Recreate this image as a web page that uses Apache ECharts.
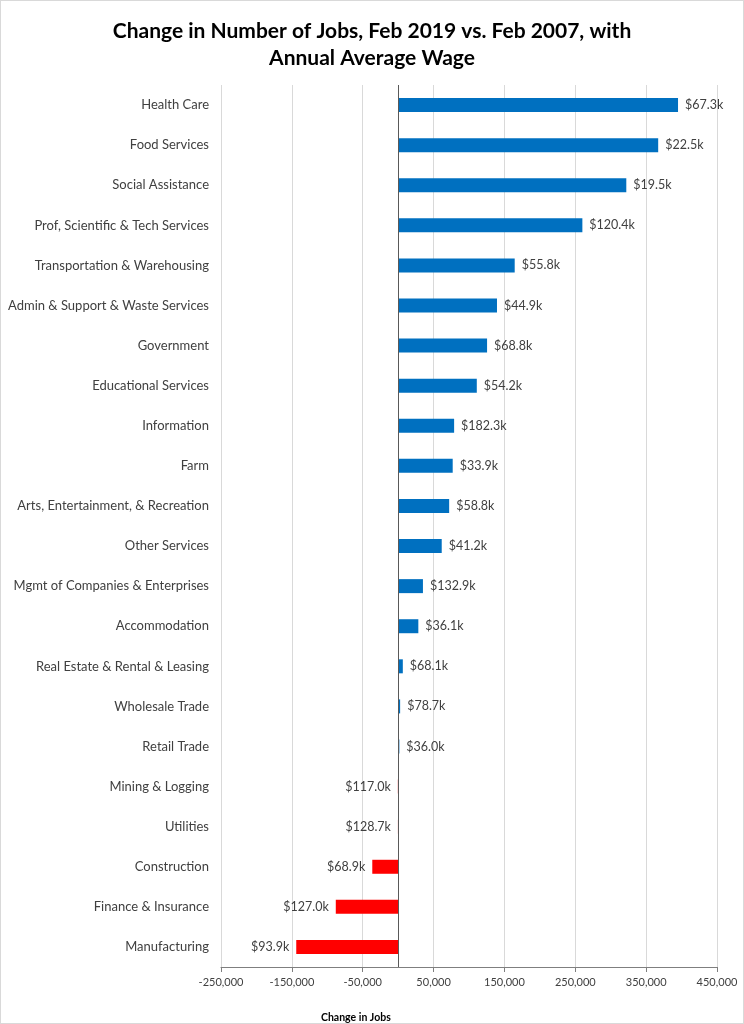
<!DOCTYPE html>
<html>
<head>
<meta charset="utf-8">
<script src="https://cdn.jsdelivr.net/npm/echarts@6/dist/echarts.min.js"></script>
<style>
  html, body { margin: 0; padding: 0; background: #fff; }
  #main { width: 744px; height: 1024px; box-sizing: border-box; border: 1px solid #d9d9d9; }
</style>
</head>
<body>
<div id="main"></div>
<script>
// industries, top to bottom
const industries = [
  'Health Care', 'Food Services', 'Social Assistance', 'Prof, Scientific & Tech Services',
  'Transportation & Warehousing', 'Admin & Support & Waste Services', 'Government',
  'Educational Services', 'Information', 'Farm', 'Arts, Entertainment, & Recreation',
  'Other Services', 'Mgmt of Companies & Enterprises', 'Accommodation',
  'Real Estate & Rental & Leasing', 'Wholesale Trade', 'Retail Trade', 'Mining & Logging',
  'Utilities', 'Construction', 'Finance & Insurance', 'Manufacturing'
]
// change in jobs, Feb 2007 -> Feb 2019
const jobChange = [
  395000, 367000, 322000, 260000,
  164500, 139500, 125500,
  111000, 79000, 77000, 72000,
  61500, 35000, 28500,
  6600, 2800, 1700, -400,
  -300, -36500, -88000, -143800
]
// annual average wage, $k
const avgWage = [
  67.3, 22.5, 19.5, 120.4,
  55.8, 44.9, 68.8,
  54.2, 182.3, 33.9, 58.8,
  41.2, 132.9, 36.1,
  68.1, 78.7, 36.0, 117.0,
  128.7, 68.9, 127.0, 93.9
]
const xTicks = [-250000, -150000, -50000, 50000, 150000, 250000, 350000, 450000]

const FONT = 'Lato'
const chart = echarts.init(document.getElementById('main'))

const barData = jobChange.map((v, i) => ({
  value: v,
  itemStyle: { color: v < 0 ? '#ff0000' : '#0070c0' },
  label: { position: v < 0 ? 'left' : 'right' }
}))

chart.setOption({
  animation: false,
  title: [
    {
      text: 'Change in Number of Jobs, Feb 2019 vs. Feb 2007, with\nAnnual Average Wage',
      left: 'center',
      top: 12,
      textStyle: { fontFamily: FONT, fontWeight: 'bold', fontSize: 21, lineHeight: 27, color: '#000' }
    },
    {
      text: 'Change in Jobs',
      left: 315,
      top: 1006,
      textStyle: { fontFamily: FONT, fontWeight: 'bold', fontSize: 10.5, color: '#000' }
    }
  ],
  grid: { left: 220, right: 26, top: 84, bottom: 56, containLabel: false },
  xAxis: {
    type: 'value',
    min: -250000,
    max: 450000,
    axisLine: { show: true, lineStyle: { color: '#7f7f7f', width: 1 } },
    axisTick: { show: true, length: 5, customValues: xTicks, lineStyle: { color: '#7f7f7f' } },
    axisLabel: {
      customValues: xTicks,
      color: '#404040',
      fontFamily: FONT,
      fontSize: 11,
      margin: 10,
      formatter: (v) => v.toLocaleString('en-US')
    },
    splitLine: { show: true, lineStyle: { color: '#d9d9d9', width: 1 } }
  },
  yAxis: {
    type: 'category',
    inverse: true,
    data: industries,
    axisLine: { show: false, onZero: false },
    axisTick: { show: false },
    axisLabel: { color: '#404040', fontFamily: FONT, fontSize: 13, margin: 12 }
  },
  series: [
    {
      type: 'bar',
      data: barData,
      barWidth: 14,
      label: {
        show: true,
        distance: 7,
        color: '#404040',
        fontFamily: FONT,
        fontSize: 12.5,
        formatter: (p) => '$' + avgWage[p.dataIndex].toFixed(1) + 'k'
      },
      markLine: {
        silent: true,
        symbol: 'none',
        label: { show: false },
        lineStyle: { color: '#595959', type: 'solid', width: 1 },
        data: [{ xAxis: 0 }]
      }
    }
  ]
})
</script>
</body>
</html>
